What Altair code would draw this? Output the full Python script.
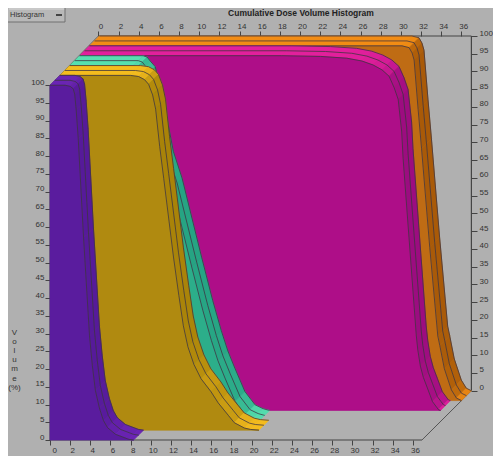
import altair as alt
import pandas as pd

# ---- read values (dose Gy, volume %) ----
purple_dose = [0, 1.5, 2.0, 2.3, 2.45, 2.6, 2.8, 3.33, 3.92, 4.2, 4.5, 4.9, 5.3, 5.7, 6.5, 7.8, 8.3]
purple_vol = [100, 100, 99.7, 99, 97.5, 93, 85, 57, 29.4, 21, 14, 9, 5.5, 3.5, 1.6, 0.2, 0]
gold_dose = [0, 7, 7.8, 8.4, 8.8, 9.2, 9.5, 9.9, 10.3, 11.27, 11.8, 12.25, 12.7, 13.3, 14, 15, 15.7, 16.7, 17.3, 18.3, 18.9, 19.75]
gold_vol = [100, 100, 99.7, 98.8, 97.5, 94.5, 90.5, 80, 71, 48.8, 38, 29.4, 23.5, 18.5, 14.5, 10.8, 7.7, 4.2, 2.1, 0.6, 0.2, 0]
teal_dose = [0, 6.3, 6.7, 7, 7.5, 8.3, 9.3, 10.16, 12.1, 13.2, 14.05, 14.7, 15.4, 16.4, 17.4, 18.2, 18.7, 18.85]
teal_vol = [100, 100, 99.6, 98.5, 96.9, 87.7, 73, 65.5, 43.2, 31, 22.5, 16.8, 11.9, 5.3, 1.6, 0.5, 0.1, 0]
pink_dose = [0, 20, 23.9, 26.5, 28, 29.1, 30, 30.7, 31.2, 31.6, 31.95, 32.09, 32.67, 33.4, 33.55, 33.8, 34.1, 34.5, 35, 35.6, 35.8]
pink_vol = [100, 100, 99.8, 99.3, 98.5, 97.4, 96, 94.2, 91, 87.7, 78.5, 71, 48.8, 21, 17, 12.5, 9.3, 6.3, 2.5, 0.2, 0]
orange_dose = [0, 31, 31.7, 32, 32.2, 32.6, 32.94, 33.75, 34.55, 34.75, 35.2, 35.9, 36.4, 36.9]
orange_vol = [100, 100, 99.5, 98, 96, 82, 71, 43.2, 18.2, 15.5, 9, 3, 0.7, 0]

dose_ticks = list(range(0, 37, 2))
vol_ticks = list(range(0, 101, 5))

series = [
    ("orange", orange_dose, orange_vol, (50, 45, 40), "#f28c14", "#a85a08", "#bf6c14"),
    ("pink", pink_dose, pink_vol, (40, 35, 30), "#e2209c", "#9c0c80", "#ae0e88"),
    ("teal", teal_dose, teal_vol, (30, 25, 20), "#56e0b0", "#22a080", "#2cae8a"),
    ("gold", gold_dose, gold_vol, (20, 15, 10), "#f4bc1e", "#a88208", "#b08a10"),
    ("purple", purple_dose, purple_vol, (10, 5, 0), "#6a24b4", "#561a9a", "#5a1c9e"),
]

BG = "#b0b0b0"
INK = "#3c3340"
PX_X, PX_Y = 10.2, 3.6
W, H = 421, 404
XMAX, YMAX = 426 / PX_X, 410 / PX_Y

front_x = alt.Scale(domain=[0, XMAX], nice=False, zero=False)
front_y = alt.Scale(domain=[0, YMAX], nice=False, zero=False)
BACK_DX, BACK_DY = 49 / PX_X, 50 / PX_Y
back_x = alt.Scale(domain=[-BACK_DX, XMAX - BACK_DX], nice=False, zero=False)
back_y = alt.Scale(domain=[-BACK_DY, YMAX - BACK_DY], nice=False, zero=False)


def px(dose, d):
    return dose + d / PX_X


def py(vol, d):
    return vol + d / PX_Y


def blend(a, b, t):
    ca = [int(a[i:i + 2], 16) for i in (1, 3, 5)]
    cb = [int(b[i:i + 2], 16) for i in (1, 3, 5)]
    return "#%02x%02x%02x" % tuple(round(u * t + v * (1 - t)) for u, v in zip(ca, cb))


X = alt.X("x:Q", scale=front_x, axis=None)
Y = alt.Y("y:Q", scale=front_y, axis=None)


def polygons(rows):
    return (
        alt.Chart(pd.DataFrame(rows))
        .mark_line(filled=True, interpolate="linear-closed", strokeWidth=0.7, clip=False)
        .encode(
            x=X, y=Y,
            detail="id:N",
            order="k:Q",
            color=alt.Color("c:N", scale=None, legend=None),
            stroke=alt.Stroke("c:N", scale=None, legend=None),
        )
    )


def polyline(pts, color=INK, width=0.9, opacity=0.85):
    return (
        alt.Chart(pd.DataFrame({"x": [p[0] for p in pts], "y": [p[1] for p in pts], "k": list(range(len(pts)))}))
        .mark_line(color=color, strokeWidth=width, opacity=opacity, clip=False)
        .encode(x=X, y=Y, order="k:Q")
    )


layers = []
# floor / wall edges
layers.append(polyline([(px(0, 0), py(100, 0)), (px(0, 49), py(100, 50))], color="#555555", width=1, opacity=1))
layers.append(polyline([(px(0, 49), py(100, 50)), (px(37, 49), py(100, 50))], color="#444444", width=1, opacity=1))
layers.append(polyline([(px(37, 49), py(100, 50)), (px(37, 49), py(0, 50))], color="#444444", width=1.2, opacity=1))
layers.append(polyline([(px(37, 49), py(0, 50)), (px(37, 0) - 0.1, py(0, 0))], color="#555555", width=1, opacity=1))
layers.append(polyline([(px(0, 0), py(0, 0)), (px(37, 0) - 0.1, py(0, 0))], color="#444444", width=1, opacity=1))
layers.append(polyline([(px(0, 0), py(0, 0)), (px(0, 0), py(100, 0))], color="#444444", width=1, opacity=1))

for name, dose, vol, depths, bright, dark, face in series:
    # two ribbons, back to front
    for r, (d1, d2) in enumerate(zip(depths[:-1], depths[1:])):
        rows = []
        for i in range(len(dose) - 1):
            dx = (dose[i + 1] - dose[i]) * PX_X
            dy = (vol[i] - vol[i + 1]) * PX_Y
            s = dy / max(dx, 0.01)
            t = 1 / (1 + (s / 1.1) ** 2)
            c = blend(bright, dark, t)
            for k, (a, dd) in enumerate([(i, d1), (i + 1, d1), (i + 1, d2), (i, d2)]):
                rows.append({"id": f"{name}{r}{i}", "k": k, "x": px(dose[a], dd), "y": py(vol[a], dd), "c": c})
        layers.append(polygons(rows))
        layers.append(polyline([(px(a, d1), py(b, d1)) for a, b in zip(dose, vol)]))
    # front face
    d = depths[-1]
    rows = [{"id": "face", "k": 0, "x": px(0, d), "y": py(0, d), "c": face}]
    for i, (a, b) in enumerate(zip(dose, vol)):
        rows.append({"id": "face", "k": i + 1, "x": px(a, d), "y": py(b, d), "c": face})
    layers.append(polygons(rows))
    layers.append(polyline([(px(a, d), py(b, d)) for a, b in zip(dose, vol)]))

# axes
anchor = pd.DataFrame({"x": [0], "y": [0]})
axis_style = dict(
    domain=False, grid=False, tickColor="#444444", tickSize=5, tickWidth=1,
    labelColor="#333333", labelFont="Liberation Sans", labelFontSize=8, labelPadding=1,
)
front = alt.Chart(anchor).mark_point(opacity=0).encode(
    x=alt.X("x:Q", scale=front_x, axis=alt.Axis(orient="bottom", values=dose_ticks, title=None, labelOffset=2,
                                               labelAngle=0, labelOverlap=False, **axis_style)),
    y=alt.Y("y:Q", scale=front_y, axis=alt.Axis(orient="left", values=vol_ticks, labelOffset=-3, labelOverlap=False,
                                               title=["V", "o", "l", "u", "m", "e", "(%)"], titleAngle=0,
                                               titleAlign="center", titleBaseline="top", titleX=-36, titleY=292,
                                               titleLineHeight=9.2, titleFont="Liberation Sans", titleFontSize=8,
                                               titleFontWeight="normal", titleColor="#333333", **axis_style)),
)
back = alt.Chart(anchor).mark_point(opacity=0).encode(
    x=alt.X("x:Q", scale=back_x, axis=alt.Axis(orient="top", values=dose_ticks, title=None, labelOffset=2,
                                              labelAngle=0, labelOverlap=False, **axis_style)),
    y=alt.Y("y:Q", scale=back_y, axis=alt.Axis(orient="right", values=vol_ticks, title=None, labelOffset=-3,
                                              labelOverlap=False, **{**axis_style, "tickSize": 6, "labelPadding": 2})),
)
layers += [front, back]

# title and the button of the window
one = pd.DataFrame({"a": [1]})
layers.append(alt.Chart(one).mark_text(text="Cumulative Dose Volume Histogram", font="Liberation Sans", fontSize=8.5,
                                      fontWeight="bold", color="#222222", align="center", baseline="middle")
              .encode(x=alt.value(251), y=alt.value(-23)))
layers.append(alt.Chart(one).mark_rect(fill="#b8b8b8", stroke=None).encode(
    x=alt.value(-42), x2=alt.value(15), y=alt.value(-28), y2=alt.value(-14)))
layers.append(alt.Chart(one).mark_rule(color="#d8d8d8", strokeWidth=1).encode(
    x=alt.value(-41), x2=alt.value(15), y=alt.value(-27)))
layers.append(alt.Chart(one).mark_rule(color="#707070", strokeWidth=1).encode(
    x=alt.value(-42), x2=alt.value(15), y=alt.value(-14)))
layers.append(alt.Chart(one).mark_rule(color="#707070", strokeWidth=1).encode(
    x=alt.value(15), y=alt.value(-28), y2=alt.value(-14)))
layers.append(alt.Chart(one).mark_text(text="Histogram", font="Liberation Sans", fontSize=7.5, color="#333333",
                                      align="left", baseline="middle")
              .encode(x=alt.value(-40), y=alt.value(-21)))
layers.append(alt.Chart(one).mark_rect(fill="#444444").encode(
    x=alt.value(6), x2=alt.value(12), y=alt.value(-22), y2=alt.value(-20)))

chart = (
    alt.layer(*layers)
    .resolve_scale(x="independent", y="independent", color="independent", stroke="independent")
    .resolve_axis(x="independent", y="independent")
    .properties(
        width=W, height=H,
        background=BG,
        padding={"left": 42, "top": 28, "right": 22, "bottom": 16},
        autosize=alt.AutoSizeParams(type="none"),
    )
    .configure_view(stroke=None)
)
chart.save("out.html", embed_options={"renderer": "svg", "actions": False})
